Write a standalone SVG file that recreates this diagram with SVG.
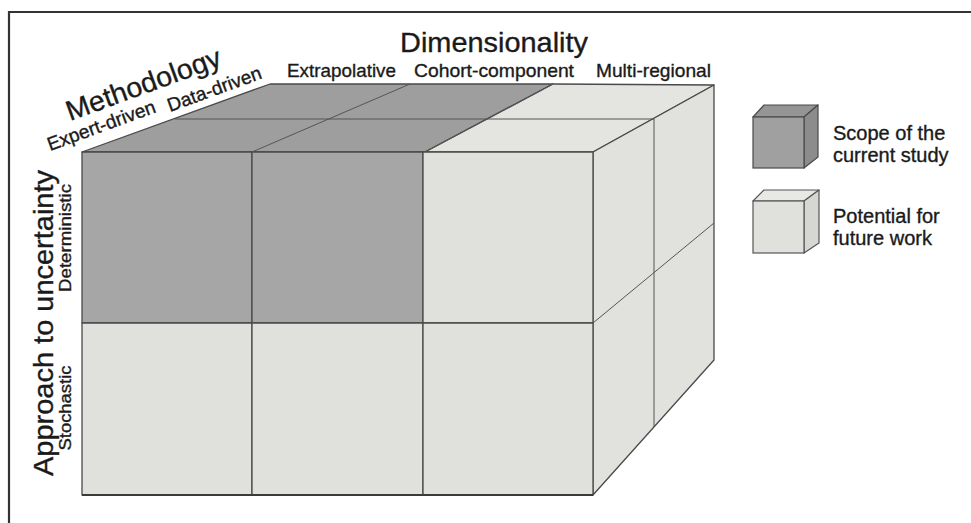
<svg xmlns="http://www.w3.org/2000/svg" width="971" height="523" viewBox="0 0 971 523">
  <style>
    .dark { fill: #a6a6a6; }
    .darktop { fill: #9e9e9e; }
    .light { fill: #e0e0dc; }
    .lighttop { fill: #e4e4e1; }
    .side { fill: #e1e1de; }
    .edge { stroke: #4a4a4a; stroke-width: 1.3; stroke-linejoin: round; }
    .thin { stroke: #555555; stroke-width: 1; fill: none; }
    text { font-family: "Liberation Sans", Arial, sans-serif; fill: #1a1a1a; stroke: #1a1a1a; stroke-width: 0.35; }
    .big { font-size: 28px; }
    .small { font-size: 19px; }
    .leg { font-size: 20px; }
  </style>
  <rect x="0" y="0" width="971" height="523" fill="#ffffff"/>
  <path d="M9,523 V12 H971" fill="none" stroke="#333333" stroke-width="2.2"/>

  <g id="cube">
    <polygon class="darktop edge" points="82,152 270,84 553,84 425,152"/>
    <polygon class="lighttop edge" points="425,152 553,84 714,85 593,152"/>
    <polygon class="side edge" points="593,152 714,85 714,360 593,495"/>
    <rect class="dark edge" x="82" y="152" width="170" height="171"/>
    <rect class="dark edge" x="252" y="152" width="171" height="171"/>
    <rect class="light edge" x="423" y="152" width="170" height="171"/>
    <rect class="light edge" x="82" y="323" width="170" height="172"/>
    <rect class="light edge" x="252" y="323" width="171" height="172"/>
    <rect class="light edge" x="423" y="323" width="170" height="172"/>
  </g>

  <g id="connectors">
    <line class="thin" x1="175" y1="119" x2="654" y2="119"/>
    <line class="thin" x1="252" y1="152" x2="410" y2="84"/>
    <line class="thin" x1="425" y1="152" x2="553" y2="84"/>
    <line class="thin" x1="654" y1="119" x2="654" y2="427"/>
    <line class="thin" x1="593" y1="323" x2="714" y2="223"/>
    <line x1="82" y1="495" x2="593" y2="495" stroke="#3a3a3a" stroke-width="1.8"/>
  </g>

  <g id="axis-dimensionality">
    <text class="big" x="400" y="52" textLength="188" lengthAdjust="spacingAndGlyphs">Dimensionality</text>
    <text class="small" x="287" y="77" textLength="109" lengthAdjust="spacingAndGlyphs">Extrapolative</text>
    <text class="small" x="414" y="77" textLength="160" lengthAdjust="spacingAndGlyphs">Cohort-component</text>
    <text class="small" x="596" y="77" textLength="115" lengthAdjust="spacingAndGlyphs">Multi-regional</text>
  </g>

  <g id="axis-methodology">
    <text class="big" transform="translate(70,121) rotate(-20)" textLength="163" lengthAdjust="spacingAndGlyphs">Methodology</text>
    <text class="small" transform="translate(50,151) rotate(-20)" textLength="114" lengthAdjust="spacingAndGlyphs">Expert-driven</text>
    <text class="small" transform="translate(170,112) rotate(-20)" textLength="99" lengthAdjust="spacingAndGlyphs">Data-driven</text>
  </g>

  <g id="axis-uncertainty">
    <text class="big" transform="translate(53,323) rotate(-90)" text-anchor="middle" textLength="306" lengthAdjust="spacingAndGlyphs">Approach to uncertainty</text>
    <text class="small" transform="translate(71,238) rotate(-90)" text-anchor="middle" textLength="108" lengthAdjust="spacingAndGlyphs" style="font-size:16px">Deterministic</text>
    <text class="small" transform="translate(71,408) rotate(-90)" text-anchor="middle" textLength="85" lengthAdjust="spacingAndGlyphs" style="font-size:16px">Stochastic</text>
  </g>

  <g id="legend-scope">
    <polygon points="753,117 764,105 818,105 804,117" fill="#959595" stroke="#4a4a4a" stroke-width="1.2" stroke-linejoin="round"/>
    <polygon points="804,117 818,105 818,157 804,168" fill="#8c8c8c" stroke="#4a4a4a" stroke-width="1.2" stroke-linejoin="round"/>
    <rect x="753" y="117" width="51" height="51" fill="#a0a0a0" stroke="#4a4a4a" stroke-width="1.2"/>
    <text class="leg" x="833" y="140">Scope of the</text>
    <text class="leg" x="833" y="162">current study</text>
  </g>

  <g id="legend-future">
    <polygon points="753,201 764,190 819,190 804,201" fill="#e8e8e5" stroke="#555555" stroke-width="1.2" stroke-linejoin="round"/>
    <polygon points="804,201 819,190 819,243 804,253" fill="#d6d6d3" stroke="#555555" stroke-width="1.2" stroke-linejoin="round"/>
    <rect x="753" y="201" width="51" height="52" fill="#e0e0dc" stroke="#555555" stroke-width="1.2"/>
    <text class="leg" x="833" y="223">Potential for</text>
    <text class="leg" x="833" y="245">future work</text>
  </g>
</svg>
